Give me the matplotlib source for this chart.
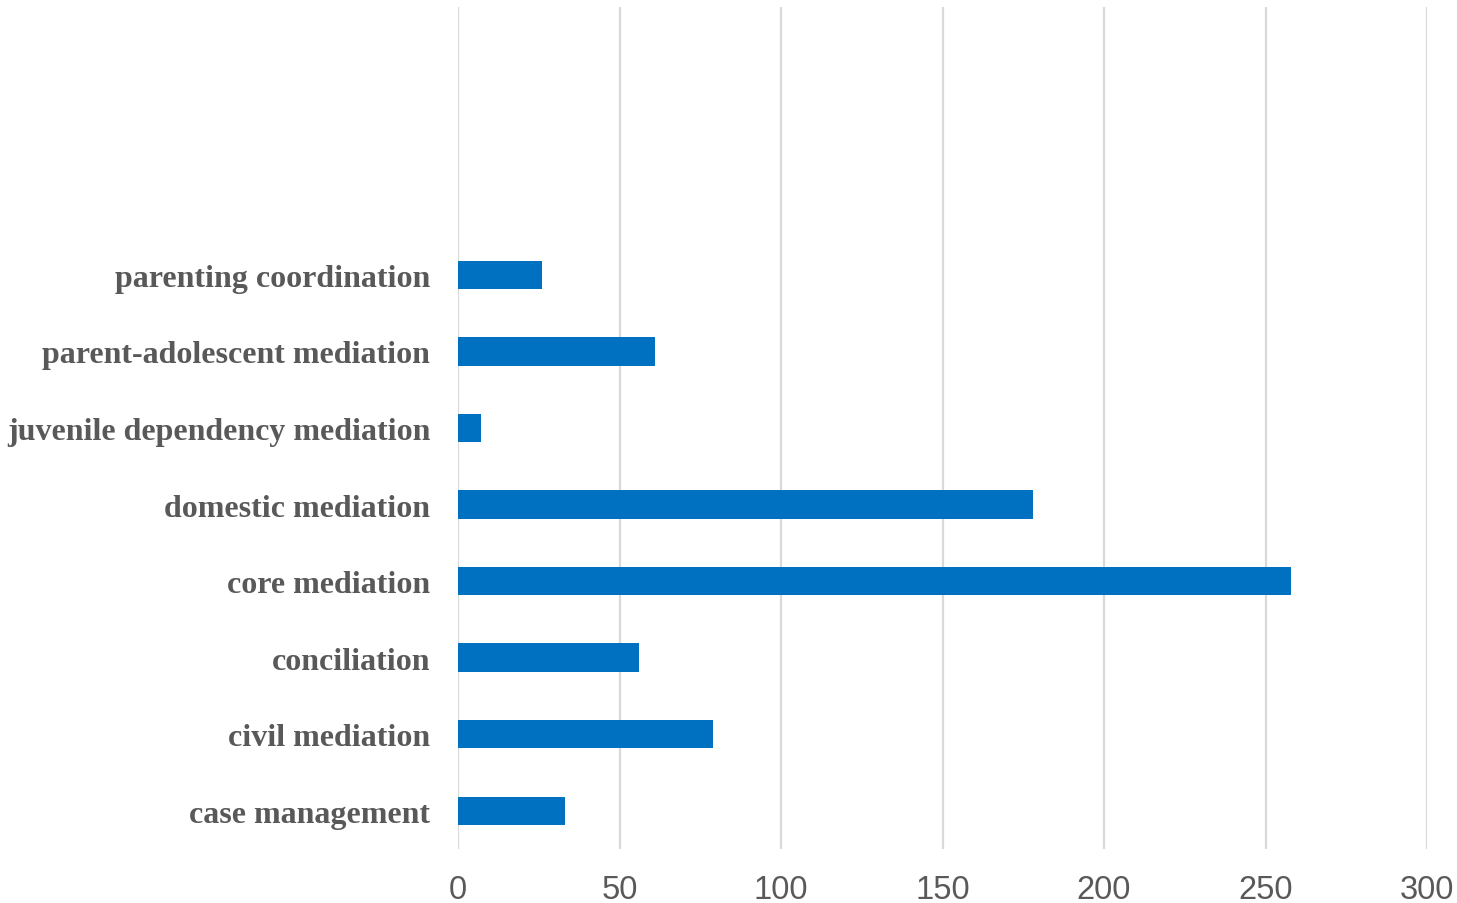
import numpy as np
import matplotlib
matplotlib.use("Agg")
import matplotlib.pyplot as plt

# categories bottom to top; three empty slots sit above the bars
categories = [
    "case management", "civil mediation", "conciliation", "core mediation",
    "domestic mediation", "juvenile dependency mediation",
    "parent-adolescent mediation", "parenting coordination",
]
values = [33, 79, 56, 258, 178, 7, 61, 26]
x_ticks = [0, 50, 100, 150, 200, 250, 300]
n_slots = 11

fig = plt.figure(figsize=(14.57, 9.04), dpi=100)
ax = fig.add_axes([458 / 1457, 54 / 904, (1427 - 458) / 1457, 842 / 904])

y = np.arange(len(categories))
ax.barh(y, values, height=0.37, color="#0070c0", zorder=3)

ax.set_xlim(0, 300)
ax.set_ylim(-0.5, n_slots - 0.5)
ax.set_xticks(x_ticks)
ax.set_xticklabels([str(t) for t in x_ticks], fontsize=23.5, color="#595959",
                   fontfamily="Liberation Sans")
ax.set_yticks(y)
ax.set_yticklabels(categories, fontsize=23, fontweight="bold", color="#595959",
                   fontfamily="Liberation Serif")
ax.tick_params(axis="x", length=0, pad=18)
ax.tick_params(axis="y", length=0, pad=20)

ax.grid(axis="x", color="#d9d9d9", linewidth=1.6, zorder=0)
for s in ax.spines.values():
    s.set_visible(False)

fig.savefig("out.png", dpi=100)
